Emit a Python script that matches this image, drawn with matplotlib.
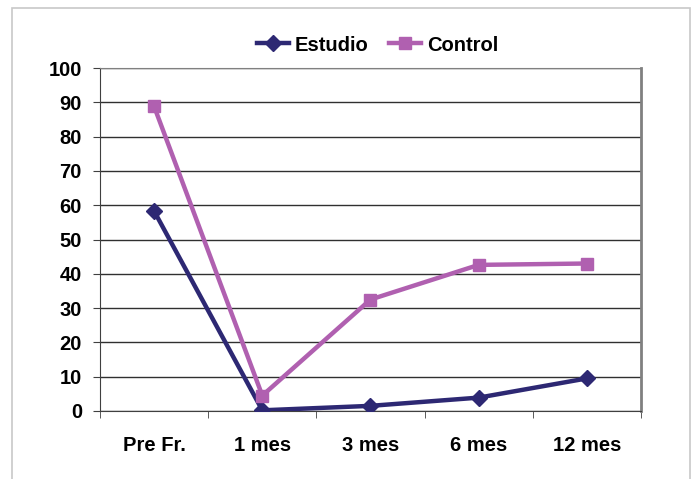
import matplotlib.pyplot as plt
import matplotlib.patches as patches
import numpy as np

categorias = ['Pre Fr.', '1 mes', '3 mes', '6 mes', '12 mes']
estudio = [58.3, 0.2, 1.5, 3.9, 9.5]
control = [88.8, 4.5, 32.5, 42.6, 43.0]

plt.rcParams['font.family'] = ['Liberation Sans Narrow', 'Liberation Sans', 'DejaVu Sans']
plt.rcParams['font.weight'] = 'bold'

fig = plt.figure(figsize=(6.93, 4.79), dpi=100)

# marco exterior
fig.patches.append(patches.Rectangle((12 / 693, -0.1), 678 / 693, 1.1 - 8 / 479,
                                     transform=fig.transFigure, fill=False,
                                     edgecolor='#c8c8c8', linewidth=1.2))

ax = fig.add_axes([100 / 693, 68 / 479, 541 / 693, 343 / 479])

x = np.arange(len(categorias))
ax.plot(x, estudio, color='#2d2873', linewidth=3.2, marker='D', markersize=8,
        label='Estudio', zorder=3)
ax.plot(x, control, color='#b060b0', linewidth=3.2, marker='s', markersize=9,
        label='Control', zorder=3)

ax.set_xlim(-0.5, len(categorias) - 0.5)
ax.set_ylim(0, 100)
ax.set_yticks(np.arange(0, 101, 10))
ax.set_xticks(x)
ax.set_xticklabels(categorias)
ax.set_xticks(np.arange(-0.5, len(categorias), 1), minor=True)
ax.tick_params(axis='x', which='major', length=0, pad=18, labelsize=14.5)
ax.tick_params(axis='x', which='minor', length=5, direction='out', color='#404040')
ax.tick_params(axis='y', length=5, direction='out', color='#404040', labelsize=14.5, pad=8)

ax.grid(axis='y', color='#303030', linewidth=1)
ax.set_axisbelow(True)

ax.spines['left'].set_color('#404040')
ax.spines['bottom'].set_color('#404040')
ax.spines['top'].set_color('#808080')
ax.spines['right'].set_color('#808080')
ax.spines['right'].set_linewidth(2)

fig.legend(loc='center', bbox_to_anchor=(0.545, 0.906), ncol=2, frameon=False,
           fontsize=14.5, handlelength=1.6, handletextpad=0.3, columnspacing=1.0)

fig.savefig('out.png', dpi=100)
